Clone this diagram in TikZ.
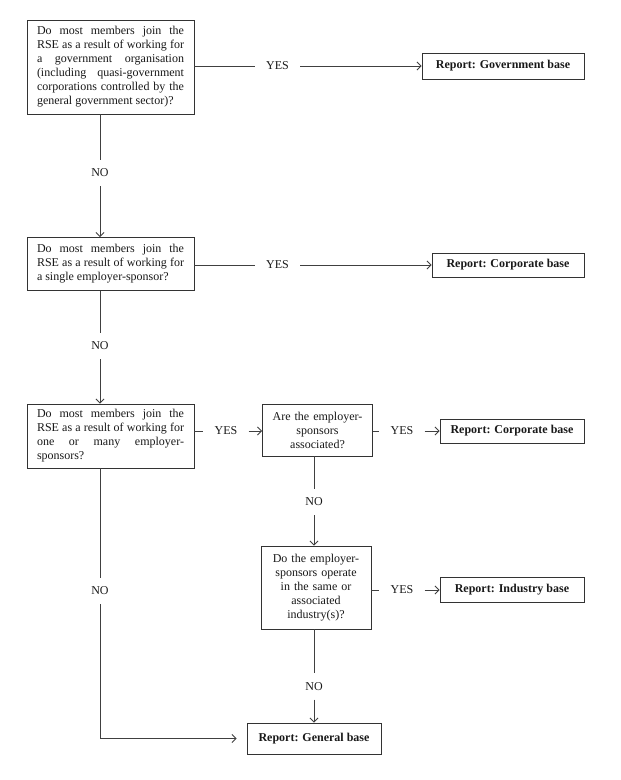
\documentclass[tikz,border=0pt]{standalone}
\usepackage{fontspec}
\setmainfont{Liberation Serif}
\usetikzlibrary{arrows.meta}
\begin{document}
\begin{tikzpicture}[x=1pt, y=-1pt,
  >={Straight Barb[length=4pt,width=8pt]},
  every node/.style={font=\fontsize{12}{14}\selectfont, text=black!90},
  ask/.style={draw=black!80, line width=0.9pt, inner xsep=10pt, inner ysep=4pt},
  askwide/.style={ask, text width=147pt, align=justify},
  asknarrow/.style={ask, text width=90pt, align=center},
  report/.style={draw=black!80, line width=0.9pt, inner sep=0pt, font=\fontsize{12}{14}\selectfont\bfseries},
  answer/.style={inner xsep=11pt, inner ysep=9pt},
  link/.style={draw=black!75, line width=0.8pt}]
  \fill[white] (0,0) rectangle (621,780);
  \node[askwide, minimum height=94pt] (q1) at (110.5,67) {Do most members join the\linebreak RSE as a result of working for\linebreak a government organisation\linebreak (including quasi-government\linebreak corporations controlled by the\linebreak general government sector)?};
  \node[answer] (y1) at (277.5,66) {YES};
  \node[report, minimum width=162pt, minimum height=26pt] (gov) at (503,66) {Report: Government base};
  \node[answer] (n1) at (100,173) {NO};
  \node[askwide, minimum height=53pt] (q2) at (110.5,264) {Do most members join the\linebreak RSE as a result of working for\linebreak a single employer-sponsor?};
  \node[answer] (y2) at (277.5,265) {YES};
  \node[report, minimum width=152pt, minimum height=24pt] (corp1) at (508,265) {Report: Corporate base};
  \node[answer] (n2) at (100,346) {NO};
  \node[askwide, minimum height=64pt] (q3) at (110.5,436) {Do most members join the\linebreak RSE as a result of working for\linebreak one or many employer-\linebreak sponsors?};
  \node[answer] (y3) at (226,431) {YES};
  \node[asknarrow, minimum height=52pt] (q4) at (317.5,430) {Are the employer-\\sponsors\\associated?};
  \node[answer] (y4) at (402,431) {YES};
  \node[report, minimum width=144pt, minimum height=24pt] (corp2) at (512,431) {Report: Corporate base};
  \node[answer] (n4) at (314,502) {NO};
  \node[asknarrow, minimum height=83pt] (q5) at (316,587.5) {Do the employer-\\sponsors operate\\in the same or\\associated\\industry(s)?};
  \node[answer] (y5) at (402,590) {YES};
  \node[report, minimum width=144pt, minimum height=25pt] (ind) at (512,590) {Report: Industry base};
  \node[answer] (n5) at (314,686.5) {NO};
  \node[report, minimum width=134pt, minimum height=31pt] (gen) at (314,738.5) {Report: General base};
  \node[answer] (n3) at (100,591) {NO};
  \draw[link] (q1.east |- y1) -- (y1);
  \draw[link, ->] (y1) -- (gov);
  \draw[link] (q1.south -| n1) -- (n1);
  \draw[link, ->] (n1) -- (q2.north -| n1);
  \draw[link] (q2.east |- y2) -- (y2);
  \draw[link, ->] (y2) -- (corp1);
  \draw[link] (q2.south -| n2) -- (n2);
  \draw[link, ->] (n2) -- (q3.north -| n2);
  \draw[link] (q3.east |- y3) -- (y3);
  \draw[link, ->] (y3) -- (q4.west |- y3);
  \draw[link] (q4.east |- y4) -- (y4);
  \draw[link, ->] (y4) -- (corp2);
  \draw[link] (q4.south -| n4) -- (n4);
  \draw[link, ->] (n4) -- (q5.north -| n4);
  \draw[link] (q5.east |- y5) -- (y5);
  \draw[link, ->] (y5) -- (ind);
  \draw[link] (q5.south -| n5) -- (n5);
  \draw[link, ->] (n5) -- (gen);
  \draw[link] (q3.south -| n3) -- (n3);
  \draw[link, ->, shorten >=10pt] (n3) |- (gen);
\end{tikzpicture}
\end{document}
